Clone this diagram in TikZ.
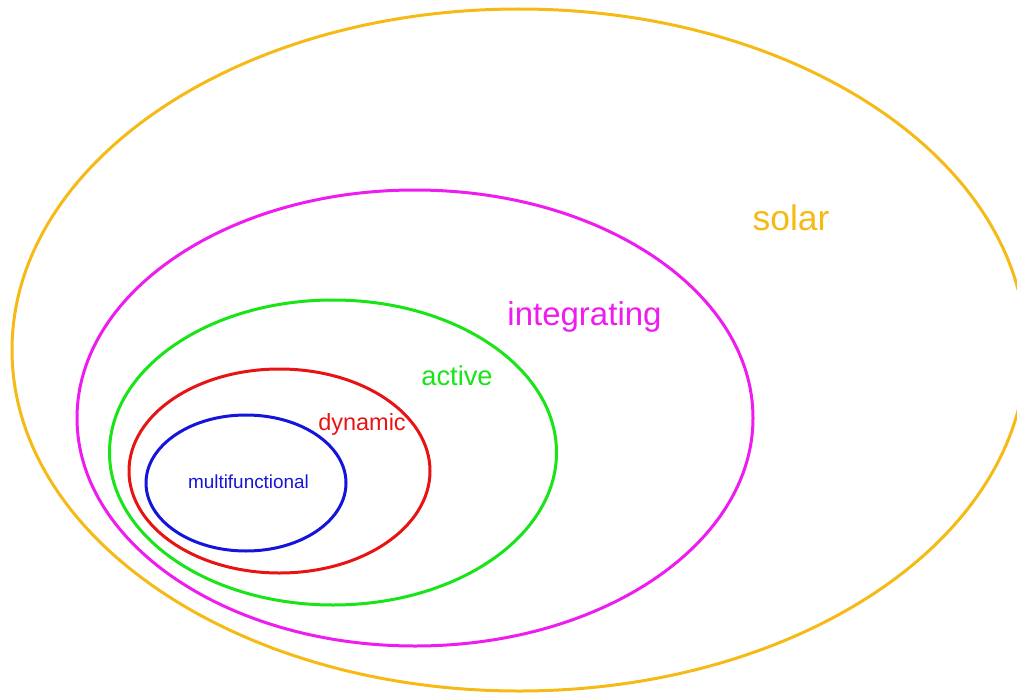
\documentclass[tikz,border=0pt]{standalone}
\usepackage{fontspec}
\setmainfont{Liberation Sans}
\usetikzlibrary{shapes.geometric}
\definecolor{csolar}{RGB}{246,186,22}
\definecolor{cinteg}{RGB}{238,28,238}
\definecolor{cactive}{RGB}{24,228,24}
\definecolor{cdyn}{RGB}{232,20,20}
\definecolor{cmulti}{RGB}{20,20,218}
\tikzset{
  ring/.style={ellipse, draw, line width=3pt, inner sep=0pt, outer sep=0pt},
  lbl/.style={anchor=base, inner sep=0pt},
}
\begin{document}
\begin{tikzpicture}[x=1pt,y=-1pt]
\useasboundingbox (0,0) rectangle (1017,693);
\node[ring, csolar, minimum width=1014pt, minimum height=682pt] (solar) at (519,350) {};
\node[ring, cinteg, minimum width=676pt, minimum height=456pt] (integ) at (415,418) {};
\node[ring, cactive, minimum width=447pt, minimum height=305pt] (active) at (333,452.5) {};
\node[ring, cdyn, minimum width=301pt, minimum height=204pt] (dyn) at (279.5,471) {};
\node[ring, cmulti, minimum width=200pt, minimum height=136pt] (multi) at (246,483) {};
\node[lbl, text=csolar, font=\fontsize{35.5}{42}\selectfont] (tsolar) at (791,230) {solar};
\node[lbl, text=cinteg, font=\fontsize{33}{38}\selectfont] (tinteg) at (584.5,325) {integrating};
\node[lbl, text=cactive, font=\fontsize{27.3}{32}\selectfont] (tactive) at (457,385) {active};
\node[lbl, text=cdyn, font=\fontsize{23.5}{28}\selectfont] (tdyn) at (362,430) {dynamic};
\node[lbl, text=cmulti, font=\fontsize{18.9}{22}\selectfont] (tmulti) at (248.5,488) {multifunctional};
\end{tikzpicture}
\end{document}
